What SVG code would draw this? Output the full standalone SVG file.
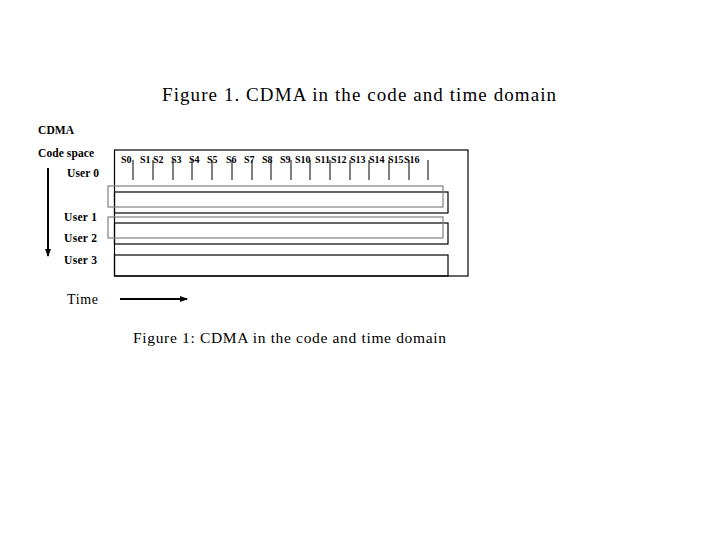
<svg xmlns="http://www.w3.org/2000/svg" width="720" height="540" viewBox="0 0 720 540">
<style>
.b{font-family:"Liberation Serif",serif;font-weight:bold;font-size:11.5px;fill:#000}
.s{font-family:"Liberation Serif",serif;font-weight:bold;font-size:10px;fill:#000}
.r{font-family:"Liberation Serif",serif;fill:#000}
.k{fill:none;stroke:#000;stroke-width:1.2}
.g{fill:none;stroke:#808080;stroke-width:1.2}
</style>
<defs><marker id="ah" markerWidth="8" markerHeight="8" refX="7" refY="4" orient="auto" markerUnits="userSpaceOnUse"><path d="M0,1 L8,4 L0,7 Z" fill="#000"/></marker></defs>
<rect width="720" height="540" fill="#fff"/>
<text class="r" x="162" y="101" font-size="19" textLength="394" lengthAdjust="spacing">Figure 1.  CDMA in the code and time domain</text>
<text class="b" x="38" y="134" textLength="36">CDMA</text>
<text class="b" x="38" y="157" textLength="56">Code space</text>
<text class="b" x="67" y="177" textLength="32">User 0</text>
<text class="b" x="64" y="221" textLength="33">User 1</text>
<text class="b" x="64" y="242" textLength="33">User 2</text>
<text class="b" x="64" y="264" textLength="33">User 3</text>
<text class="r" x="67" y="304" font-size="14" textLength="31">Time</text>
<text class="r" x="133" y="343" font-size="15.5" textLength="313" lengthAdjust="spacing">Figure 1: CDMA in the code and time domain</text>
<g id="connectors">
<line x1="48" y1="168" x2="48" y2="256" stroke="#000" stroke-width="2" marker-end="url(#ah)"/>
<line x1="120" y1="299" x2="187" y2="299" stroke="#000" stroke-width="2" marker-end="url(#ah)"/>
</g>
<g id="frame"><rect class="k" x="114.5" y="150" width="353.5" height="126"/></g>
<g id="slots" stroke="#000" stroke-width="1">
<path d="M133,160V180M153,160V180M173,160V180M192,160V180M212,160V180M232,160V180M252,160V180M271,160V180M291,160V180M310,160V180M330,160V180M350,160V180M369,160V180M389,160V180M409,160V180M428,160V180"/>
</g>
<g id="labels">
<text class="s" x="121" y="163">S0</text><text class="s" x="140" y="163">S1</text><text class="s" x="153" y="163">S2</text><text class="s" x="171" y="163">S3</text><text class="s" x="189" y="163">S4</text><text class="s" x="207" y="163">S5</text><text class="s" x="226" y="163">S6</text><text class="s" x="244" y="163">S7</text><text class="s" x="262" y="163">S8</text><text class="s" x="280" y="163">S9</text><text class="s" x="295" y="163">S10</text><text class="s" x="315" y="163">S11</text><text class="s" x="331" y="163">S12</text><text class="s" x="350" y="163">S13</text><text class="s" x="369" y="163">S14</text><text class="s" x="388" y="163">S15</text><text class="s" x="404" y="163">S16</text>
</g>
<g id="user0"><rect class="k" x="114.5" y="192" width="333.5" height="21"/></g>
<g id="user1"><rect class="g" x="108" y="186" width="335" height="21"/></g>
<g id="user2"><rect class="k" x="114.5" y="223" width="333.5" height="21"/></g>
<g id="user2g"><rect class="g" x="108" y="217" width="335" height="21"/></g>
<g id="user3"><rect class="k" x="114.5" y="255" width="333.5" height="21"/></g>
</svg>
